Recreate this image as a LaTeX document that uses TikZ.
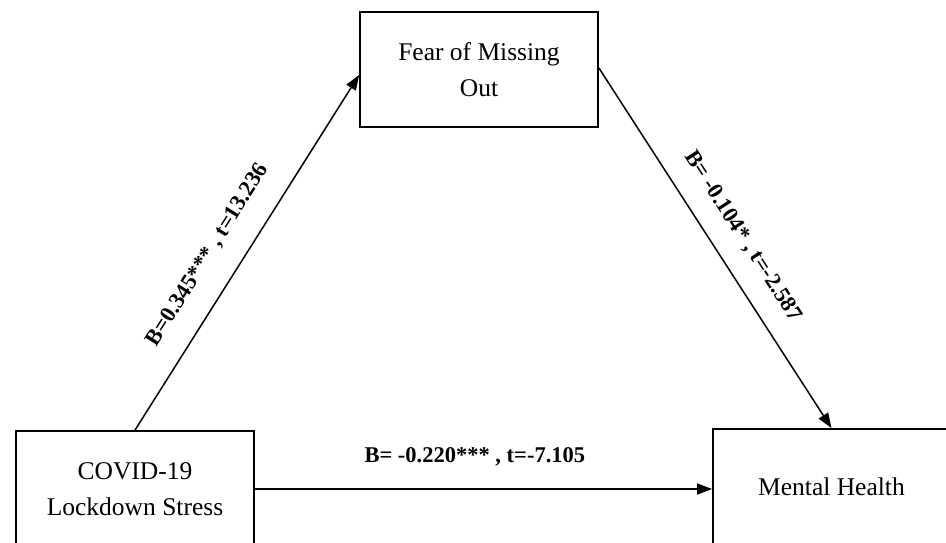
\documentclass[tikz,border=0pt]{standalone}
\usepackage{fontspec}
\setmainfont{Liberation Serif}
\usetikzlibrary{arrows.meta,calc}
\begin{document}
\begin{tikzpicture}[x=1pt,y=-1pt,
  box/.style={draw, line width=1.8pt, minimum width=238pt, inner sep=0pt, align=center, font=\fontsize{25.5}{36}\selectfont},
  link/.style={line width=1.5pt, -{Triangle[length=15pt,width=11pt]}},
  coef/.style={font=\bfseries\fontsize{22.5}{27}\selectfont, inner sep=0pt, sloped}]
\useasboundingbox (0,0) rectangle (946,543);
\clip (0,0) rectangle (946,543);
\node[box, minimum height=115pt] (fomo) at (479,69.5) {Fear of Missing\\Out};
\node[box, minimum height=116pt] (covid) at (135,489) {COVID-19\\Lockdown Stress};
\node[box, minimum width=237pt, minimum height=116pt] (mh) at (831.5,487) {Mental Health};
\draw[link] (covid.north) -- ([yshift=-5.5pt]fomo.west)
  node[coef, pos=.445, above=22pt] {B=0.345*** , t=13.236};
\draw[link] ([yshift=1.5pt]fomo.east) -- (mh.north)
  node[coef, pos=.512, above=19.5pt] {B= -0.104* , t=-2.587};
\draw[link] (covid.east) -- (covid.east -| mh.west)
  node[coef, pos=.481, above=22pt] {B= -0.220*** , t=-7.105};
\end{tikzpicture}
\end{document}
